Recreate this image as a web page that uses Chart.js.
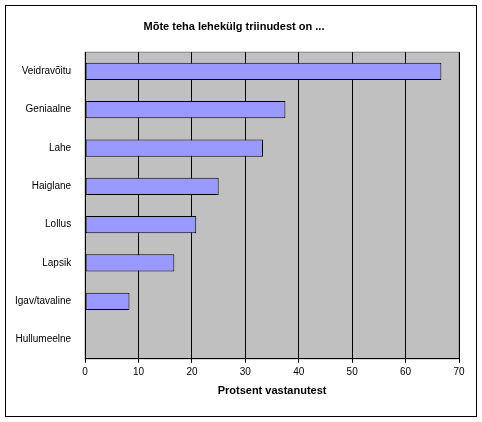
<!DOCTYPE html>
<html>
<head>
<meta charset="utf-8">
<script src="https://cdn.jsdelivr.net/npm/chart.js@4"></script>
<style>
  body { margin: 0; background: #fff; }
  #frame { position: absolute; left: 5px; top: 5px; width: 470px; height: 410px; border: 1px solid #000; }
  canvas { display: block; }
</style>
</head>
<body>
<div id="frame"><canvas id="c" width="470" height="410"></canvas></div>
<script>
const categories = ["Veidravõitu", "Geniaalne", "Lahe", "Haiglane", "Lollus", "Lapsik", "Igav/tavaline", "Hullumeelne"];
const percents = [66.7, 37.5, 33.3, 25.0, 20.8, 16.7, 8.3, 0];

// gray plot background like old Excel charts
const plotBg = {
  id: "plotBg",
  beforeDraw(chart) {
    const { ctx, chartArea: a } = chart;
    ctx.save();
    ctx.fillStyle = "#c0c0c0";
    ctx.fillRect(a.left, a.top, a.right - a.left, a.bottom - a.top);
    ctx.strokeStyle = "#808080";
    ctx.strokeRect(a.left, a.top, a.right - a.left, a.bottom - a.top);
    ctx.restore();
  },
};

new Chart(document.getElementById("c"), {
  type: "bar",
  data: {
    labels: categories,
    datasets: [{
      data: percents,
      backgroundColor: "#9999ff",
      borderColor: "#000",
      borderWidth: 1,
      borderSkipped: false,
      categoryPercentage: 1,
      barPercentage: 0.45,
    }],
  },
  options: {
    indexAxis: "y",
    responsive: false,
    animation: false,
    layout: { padding: { top: 8, right: 17, bottom: 14, left: 3 } },
    plugins: {
      legend: { display: false },
      tooltip: { enabled: false },
      title: {
        display: true,
        text: "Mõte teha lehekülg triinudest on ...",
        color: "#000",
        font: { family: "Arial, Liberation Sans", size: 11, weight: "bold" },
        padding: { top: 6, bottom: 19 },
      },
    },
    scales: {
      x: {
        min: 0, max: 70,
        ticks: { stepSize: 10, color: "#000", font: { family: "Arial, Liberation Sans", size: 10 } },
        grid: { color: "#000", drawTicks: true, tickLength: 4 },
        border: { color: "#000" },
        title: {
          display: true,
          text: "Protsent vastanutest",
          color: "#000",
          font: { family: "Arial, Liberation Sans", size: 11, weight: "bold" },
        },
      },
      y: {
        ticks: { color: "#000", font: { family: "Arial, Liberation Sans", size: 10 }, padding: 6 },
        grid: { display: false },
        border: { color: "#000" },
      },
    },
  },
  plugins: [plotBg],
});
</script>
</body>
</html>
